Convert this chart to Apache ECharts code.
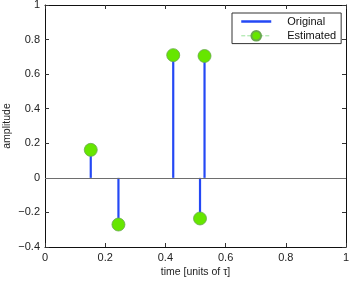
<!DOCTYPE html>
<html><head><meta charset="utf-8">
<script src="https://cdn.jsdelivr.net/npm/echarts@6/dist/echarts.min.js"></script>
<style>html,body{margin:0;padding:0;background:#fff}#c{width:350px;height:281px}</style>
</head><body><div id="c"></div>
<script>
var origTimes = [0.152, 0.244, 0.426, 0.530, 0.515];
var origValues = [0.16, -0.27, 0.71, 0.70, -0.235];
var estTimes = [0.152, 0.244, 0.426, 0.530, 0.515];
var estValues = [0.162, -0.27, 0.71, 0.705, -0.235];
var xTicks = [0, 0.2, 0.4, 0.6, 0.8, 1];
var yTicks = [-0.4, -0.2, 0, 0.2, 0.4, 0.6, 0.8, 1];

var FONT = 'Liberation Sans, Arial, sans-serif';
function fmt(v){ return String(Math.round(v*10)/10).replace('-', '\u2212'); }

var series = [];
series.push({type:'line', data:[], silent:true,
  markLine:{symbol:'none', silent:true, label:{show:false},
    lineStyle:{color:'#6e6e6e', width:1, type:'solid'},
    data:[{yAxis:0}]}, animation:false});
for (var j=0;j<origTimes.length;j++){
  series.push({name:'Original', type:'line', z:2, symbol:'none',
    data:[[origTimes[j],0],[origTimes[j],origValues[j]]],
    lineStyle:{color:'#2448f5', width:2.2},
    itemStyle:{color:'#2448f5'},
    animation:false});
}
for (var i=0;i<estTimes.length;i++){
  series.push({name:'Estimated', type:'line', z:3,
    data:[{value:[estTimes[i],0], symbol:'none'},{value:[estTimes[i],estValues[i]]}],
    symbol:'circle', symbolSize:13, showSymbol:true,
    lineStyle:{color:'#9be39b', width:1, type:'dashed', opacity:0},
    itemStyle:{color:'#66e600', borderColor:'#6aa84f', borderWidth:0.8},
    animation:false});
}

var chart = echarts.init(document.getElementById('c'), null, {renderer:'canvas'});
chart.setOption({
  animation:false,
  backgroundColor:'#fff',
  grid:{left:45, right:4, top:5, bottom:34, containLabel:false, outerBoundsMode:'none'},
  legend:{
    data:[{name:'Original', itemStyle:{opacity:0}, lineStyle:{color:'#2448f5', width:2.5, opacity:1}},
          {name:'Estimated', lineStyle:{color:'#9be39b', width:1, type:'dashed', opacity:1}}],
    orient:'vertical', left:232, top:13,
    backgroundColor:'#fff', borderColor:'#333', borderWidth:1,
    padding:[3,5,2,8], itemGap:3, itemWidth:30, itemHeight:12,
    textStyle:{fontFamily:FONT, fontSize:11, color:'#111', padding:[0,0,0,11]}
  },
  xAxis:[{type:'value', min:0, max:1, interval:0.2, position:'bottom',
    name:'time [units of \u03c4]', nameLocation:'middle', nameGap:20, nameMoveOverlap:false,
    nameTextStyle:{fontFamily:FONT, fontSize:10.5, color:'#222'},
    axisLine:{show:true, onZero:false, lineStyle:{color:'#111', width:1}},
    axisTick:{show:true, inside:true, length:4, lineStyle:{color:'#333'}},
    axisLabel:{fontFamily:FONT, fontSize:11, color:'#222', margin:5, formatter:fmt},
    splitLine:{show:false}},
   {type:'value', min:0, max:1, interval:0.2, position:'top',
    axisLine:{show:true, onZero:false, lineStyle:{color:'#111', width:1}},
    axisTick:{show:true, inside:true, length:4, lineStyle:{color:'#333'}},
    axisLabel:{show:false}, splitLine:{show:false}}],
  yAxis:[{type:'value', min:-0.4, max:1, interval:0.2, position:'left',
    name:'amplitude', nameLocation:'middle', nameGap:32, nameMoveOverlap:false,
    nameTextStyle:{fontFamily:FONT, fontSize:10.5, color:'#222'},
    axisLine:{show:true, onZero:false, lineStyle:{color:'#111', width:1}},
    axisTick:{show:true, inside:true, length:4, lineStyle:{color:'#333'}},
    axisLabel:{fontFamily:FONT, fontSize:11, color:'#222', margin:5, formatter:fmt},
    splitLine:{show:false}},
   {type:'value', min:-0.4, max:1, interval:0.2, position:'right',
    axisLine:{show:true, onZero:false, lineStyle:{color:'#111', width:1}},
    axisTick:{show:true, inside:true, length:4, lineStyle:{color:'#333'}},
    axisLabel:{show:false}, splitLine:{show:false}}],
  series:series
});
</script></body></html>
